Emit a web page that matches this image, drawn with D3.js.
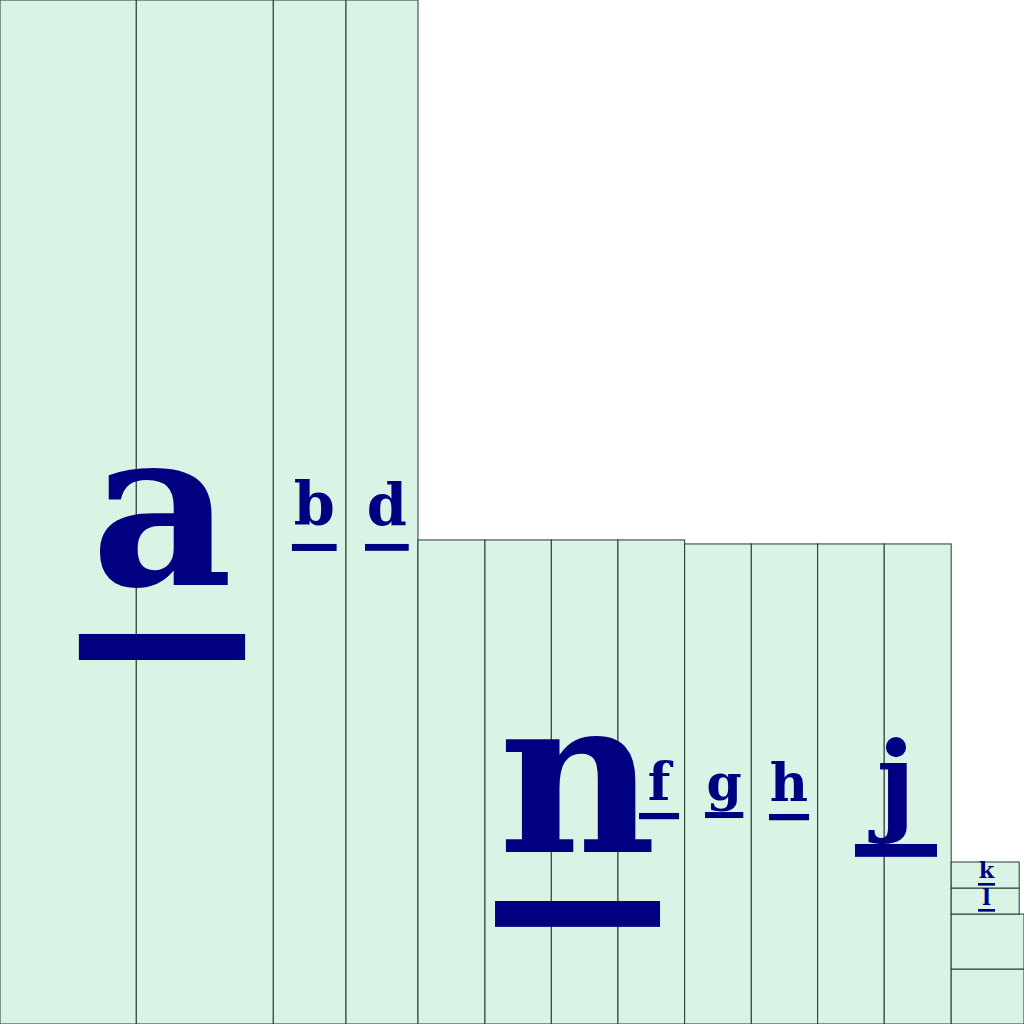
<!DOCTYPE html>
<html><head><meta charset="utf-8">
<script src="https://cdn.jsdelivr.net/npm/d3@7"></script>
<style>html,body{margin:0;padding:0;background:#fff;}svg{display:block;}</style>
</head><body>
<script>
// ---- data (units: full chart = 100 x 100) ----
const columnWidths  = [13.31, 13.38, 7.10, 7.03, 6.54, 6.48, 6.51, 6.51, 6.51, 6.48, 6.50, 6.54];
const columnHeights = [100, 100, 100, 100, 47.27, 47.27, 47.27, 47.27, 46.88, 46.88, 46.88, 46.88];
const stackWidths   = [7.11, 7.11, 6.64, 6.64];
const stackHeights  = [5.37, 5.37, 2.54, 2.54];
const labels        = ["a", "b", "d", "n", "f", "g", "h", "j", "k", "l"];

// ---- label layout (x centre, baseline, underline top in chart units; nominal size in px) ----
const labelX     = [15.82, 30.69, 37.78, 56.40, 64.36, 70.72, 77.05, 87.50, 96.34, 96.34];
const labelY     = [42.87, 48.73, 48.73, 16.80, 21.88, 21.88, 21.78, 19.92, 14.26, 11.62];
const underlineY = [38.09, 46.88, 46.88, 12.01, 20.61, 20.70, 20.51, 17.58, 13.77, 11.23];
const labelSize  = [277, 74.5, 72.8, 275, 66.7, 63.8, 66.7, 136.7, 28.3, 28.3];

const W = 1024, H = 1024;
const x = d3.scaleLinear().domain([0, 100]).range([0, W]);
const y = d3.scaleLinear().domain([0, 100]).range([H, 0]);

const cells = [];
let cx = 0;
columnWidths.forEach((w, i) => {
  cells.push({x0: cx, x1: cx + w, y0: 0, y1: columnHeights[i]});
  cx += w;
});
let cy = 0;
stackWidths.forEach((w, i) => {
  cells.push({x0: cx, x1: cx + w, y0: cy, y1: cy + stackHeights[i]});
  cy += stackHeights[i];
});

const svg = d3.select("body").append("svg").attr("width", W).attr("height", H);

svg.append("g").selectAll("rect").data(cells).join("rect")
  .attr("x", d => x(d.x0))
  .attr("y", d => y(d.y1))
  .attr("width", d => x(d.x1) - x(d.x0))
  .attr("height", d => y(d.y0) - y(d.y1))
  .attr("fill", "#d9f3e5")
  .attr("stroke", "#26382e")
  .attr("stroke-width", 1);

const lab = svg.append("g").selectAll("g").data(labels).join("g");

lab.append("text")
  .attr("x", (d, i) => x(labelX[i]))
  .attr("y", (d, i) => y(labelY[i]))
  .attr("text-anchor", "middle")
  .attr("font-family", "'DejaVu Serif', serif")
  .attr("font-weight", "bold")
  .attr("font-size", (d, i) => (labelSize[i] * 0.79) + "px")
  .attr("fill", "#000080")
  .text(d => d);

// underline bar (monospace advance width)
lab.append("rect")
  .attr("x", (d, i) => x(labelX[i]) - labelSize[i] * 0.3)
  .attr("y", (d, i) => y(underlineY[i]))
  .attr("width", (d, i) => labelSize[i] * 0.6)
  .attr("height", (d, i) => labelSize[i] * 0.094)
  .attr("fill", "#000080");
</script>
</body></html>
